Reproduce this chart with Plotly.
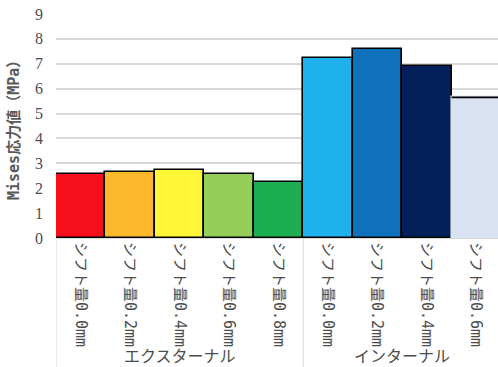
import plotly.graph_objects as go

groups = ["エクスターナル", "インターナル"]
ext_labels = ["シフト量0.0mm", "シフト量0.2mm", "シフト量0.4mm", "シフト量0.6mm", "シフト量0.8mm"]
int_labels = ["シフト量0.0mm", "シフト量0.2mm", "シフト量0.4mm", "シフト量0.6mm"]
ext_values = [2.58, 2.66, 2.73, 2.58, 2.26]
int_values = [7.23, 7.61, 6.93, 5.65]
colors = ["#F80F1E", "#FDB92E", "#FEF637", "#95CF59", "#1DAE52",
          "#1EB1EB", "#1072BD", "#03205A", "#D9E2F2"]
y_ticks = list(range(0, 10))

labels = ext_labels + int_labels
values = ext_values + int_values
xpos = list(range(len(labels)))

# the last bar runs off the right edge of the image: no side outline there
line_colors = ["#000000"] * (len(labels) - 1) + [colors[-1]]

fig = go.Figure()
fig.add_trace(go.Bar(
    x=xpos, y=values, width=1.0,
    marker=dict(color=colors, line=dict(color=line_colors, width=1.6)),
    showlegend=False, hoverinfo="skip",
))
last = xpos[-1]
fig.add_trace(go.Scatter(
    x=[last - 0.5, last + 0.5], y=[values[-1], values[-1]], mode="lines",
    line=dict(color="#000000", width=1.6), showlegend=False, hoverinfo="skip",
))

grid = "#D9D9D9"
txt = "#4D4D4D"
fig.update_layout(
    width=498, height=367,
    margin=dict(l=56, r=0, t=14, b=129),
    plot_bgcolor="white", paper_bgcolor="white",
    bargap=0,
    xaxis=dict(
        range=[-0.5, len(labels) - 0.56],
        tickmode="array", tickvals=xpos, ticktext=labels,
        tickangle=90, showgrid=False, zeroline=False,
        showline=True, linecolor=grid, linewidth=1,
        tickfont=dict(family="DejaVu Sans Mono, Noto Sans CJK JP", size=15, color=txt),
        ticks="", fixedrange=True,
    ),
    yaxis=dict(
        range=[0, 9], tickmode="array", tickvals=y_ticks,
        showgrid=True, gridcolor=grid, gridwidth=1.5,
        zeroline=False, showline=False,
        tickfont=dict(family="Liberation Serif", size=16, color=txt),
        ticklabelstandoff=12,
    ),
)

# group dividers
n_ext = len(ext_labels)
for xv in [-0.5, n_ext - 0.5]:
    fig.add_shape(type="line", xref="x", yref="paper", x0=xv, x1=xv,
                  y0=0, y1=-0.6, line=dict(color=grid, width=1))

# group labels
centers = [(n_ext - 1) / 2, n_ext + (len(int_labels) - 1) / 2]
for g, c in zip(groups, centers):
    fig.add_annotation(x=c, y=-117 / 224, xref="x", yref="paper",
                       text=g, showarrow=False, yanchor="middle",
                       font=dict(family="Noto Sans CJK JP", size=16, color=txt))

# y title
fig.add_annotation(x=(14 - 56) / 442, y=(238 - 127) / 224, xref="paper", yref="paper",
                   text="<b>Mises応力値（MPa）</b>", textangle=-90, showarrow=False,
                   xanchor="center", yanchor="middle",
                   font=dict(family="DejaVu Sans Mono, Noto Sans CJK JP", size=15, color="#595959"))

fig.write_html("out.html")
